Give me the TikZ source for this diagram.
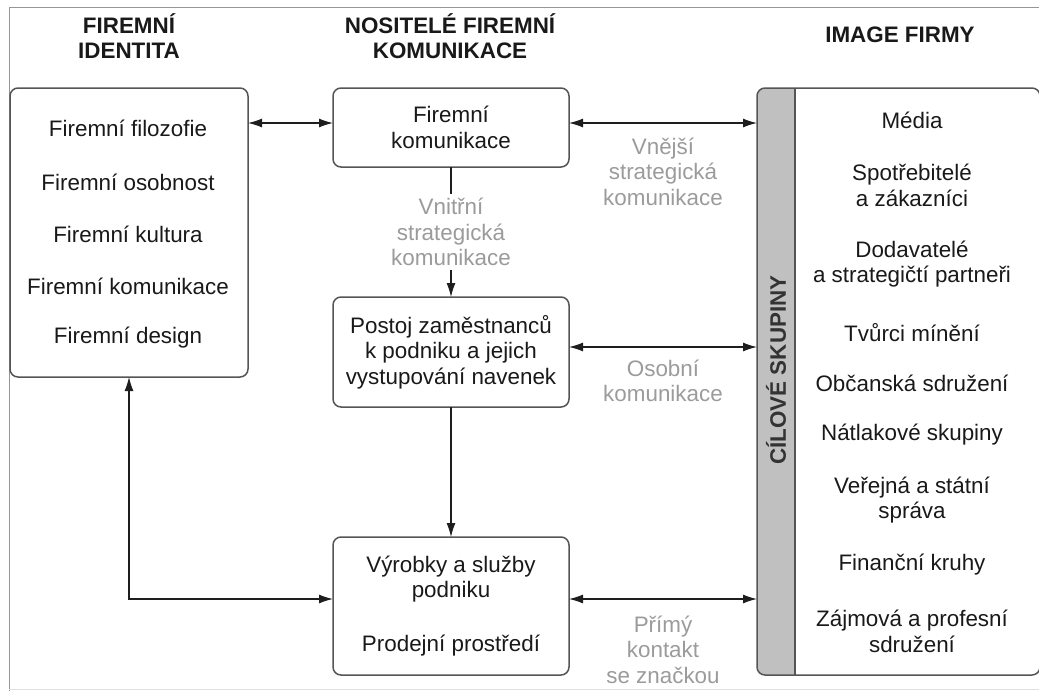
\documentclass[tikz,border=0pt]{standalone}
\usepackage{fontspec}
\setmainfont{Liberation Sans}
\usetikzlibrary{arrows.meta,backgrounds}
\definecolor{framegray}{RGB}{150,150,150}
\definecolor{boxgray}{RGB}{85,85,85}
\definecolor{linegray}{RGB}{30,30,30}
\definecolor{labelgray}{RGB}{155,155,155}
\definecolor{stripgray}{RGB}{192,192,192}
\tikzset{
  txt/.style={font=\fontsize{11.2}{12.75}\selectfont, text=black!90, align=center},
  head/.style={txt, font=\fontsize{11.2}{12.75}\selectfont\bfseries},
  box/.style={txt, draw=boxgray, line width=0.75pt, rounded corners=4pt, outer sep=0pt, inner sep=0pt},
  lbl/.style={txt, text=labelgray, inner sep=2pt},
  arr/.style={draw=linegray, line width=0.6pt, -{Latex[length=7pt,width=4.5pt]}},
  link/.style={arr, {Latex[length=7pt,width=4.5pt]}-{Latex[length=7pt,width=4.5pt]}}
}

\begin{document}
\begin{tikzpicture}[x=0.5pt,y=-0.5pt]
  \useasboundingbox (0,0) rectangle (1039,691);

  % Frame
  \draw[framegray, line width=0.5pt] (9,691) -- (9,7) -- (1039,7);
  \draw[gray!25, line width=0.5pt] (9,689) -- (1039,689);

  % Headings
  \node[head] (hident) at (129,36) {FIREMNÍ\\IDENTITA};
  \node[head] (hnosit) at (450,36) {NOSITELÉ FIREMNÍ\\KOMUNIKACE};
  \node[head] (himage) at (900,35) {IMAGE FIRMY};

  % Corporate identity
  \node[box, minimum width=119pt, minimum height=144.5pt] (ident) at (129,232.5) {};
  \node[txt] (filoz) at (128,128) {Firemní filozofie};
  \node[txt] (osob) at (128,182) {Firemní osobnost};
  \node[txt] (kult) at (128,234) {Firemní kultura};
  \node[txt] (komu) at (128,286) {Firemní komunikace};
  \node[txt] (design) at (128,338) {Firemní design};

  % Carriers
  \node[box, minimum width=118pt, minimum height=39.5pt] (komun) at (451,127.5) {Firemní\\komunikace};
  \node[box, minimum width=118pt, minimum height=55pt] (postoj) at (451,352) {Postoj zaměstnanců\\k podniku a jejich\\vystupování navenek};
  \node[box, minimum width=118pt, minimum height=69pt] (vyrob) at (451,606) {Výrobky a služby\\podniku\\[14pt]Prodejní prostředí};

  % Target groups
  \node[box, minimum width=141.5pt, minimum height=293.5pt] (cil) at (898.5,381.5) {};
  \begin{scope}[on background layer]
    \clip[rounded corners=4pt] (cil.north west) rectangle (cil.south east);
    \fill[stripgray] (cil.north west) rectangle ([xshift=19pt]cil.south west);
  \end{scope}
  \draw[boxgray, line width=0.75pt] ([xshift=19pt]cil.north west) -- ([xshift=19pt]cil.south west);
  \node[head, rotate=90, text=black!80] (cilove) at (776,370) {CÍLOVÉ SKUPINY};

  \node[txt] (media) at (912,120) {Média};
  \node[txt] (spotr) at (912,185.5) {Spotřebitelé\\a zákazníci};
  \node[txt] (dodav) at (912,264) {Dodavatelé\\a strategičtí partneři};
  \node[txt] (tvurci) at (912,333) {Tvůrci mínění};
  \node[txt] (obcan) at (912,383) {Občanská sdružení};
  \node[txt] (natlak) at (912,435) {Nátlakové skupiny};
  \node[txt] (verej) at (912,500) {Veřejná a státní\\správa};
  \node[txt] (financ) at (912,565) {Finanční kruhy};
  \node[txt] (zajm) at (912,631.5) {Zájmová a profesní\\sdružení};

  % Connectors
  \coordinate (r1) at (0,123);
  \coordinate (r2) at (0,347);
  \coordinate (r3) at (0,599);
  \draw[link] (ident.east |- r1) -- (komun.west |- r1);
  \draw[link] (komun.east |- r1) -- node[lbl, below=5pt] {Vnější\\strategická\\komunikace} (cil.west |- r1);
  \draw[arr] (komun.south) -- node[lbl, fill=white] {Vnitřní\\strategická\\komunikace} (postoj.north);
  \draw[link] (postoj.east |- r2) -- node[lbl, below=4pt] {Osobní\\komunikace} (cil.west |- r2);
  \draw[arr] (postoj.south) -- (vyrob.north);
  \draw[link] (vyrob.east |- r3) -- node[lbl, below=6pt] {Přímý\\kontakt\\se značkou} (cil.west |- r3);
  \draw[link] (ident.south) |- (vyrob.west |- r3);
\end{tikzpicture}
\end{document}
